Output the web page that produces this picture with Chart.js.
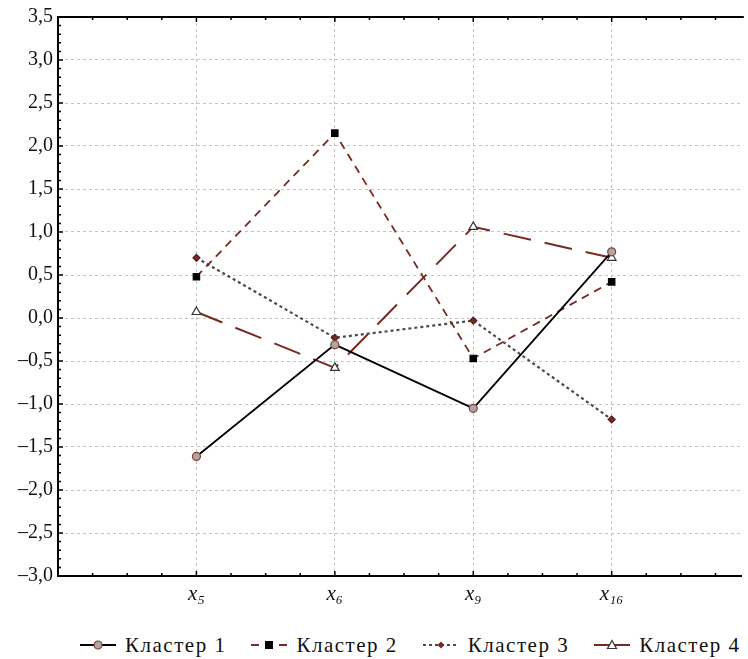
<!DOCTYPE html>
<html>
<head>
<meta charset="utf-8">
<script src="https://cdn.jsdelivr.net/npm/chart.js@4"></script>
<style>
  body { margin: 0; background: #fff; }
  #wrap { position: relative; width: 748px; height: 659px; }
  #box { position: absolute; left: 0; top: 0; width: 748px; height: 615px; }
  #legend {
    position: absolute; left: 0; top: 630px; width: 748px; height: 30px; padding-left: 79px;
    box-sizing: border-box;
    display: flex; justify-content: flex-start; align-items: center;
    font-family: 'Liberation Serif', 'Times New Roman', serif; font-size: 21px; letter-spacing: 1.5px; color: #111;
  }
  .item { display: flex; align-items: center; margin-right: 24px; }
  .item svg { margin-right: 8px; }
</style>
</head>
<body>
<div id="wrap">
  <div id="box"><canvas id="chart"></canvas></div>
  <div id="legend"></div>
</div>
<script>
// ---- data ----
const categories = ["x₅", "x₆", "x₉", "x₁₆"];
const catPos = [1, 2, 3, 4];
const seriesNames = ["Кластер 1", "Кластер 2", "Кластер 3", "Кластер 4"];
const cluster1 = [-1.61, -0.31, -1.05, 0.77];
const cluster2 = [0.48, 2.15, -0.47, 0.42];
const cluster3 = [0.70, -0.23, -0.03, -1.18];
const cluster4 = [0.07, -0.58, 1.06, 0.70];
const yTicks = [-3.0, -2.5, -2.0, -1.5, -1.0, -0.5, 0.0, 0.5, 1.0, 1.5, 2.0, 2.5, 3.0, 3.5];

const red = "#7a2a22";
const serif = "'Liberation Serif', 'Times New Roman', serif";
Chart.defaults.font.family = serif;

function pts(vals) {
    return vals.map((v, i) => ({ x: catPos[i], y: v }));
}

const styles = [
    { color: "#000", dash: [], width: 1.8, point: "circle", r: 4, fill: "#a8a8a8", border: "#8b3a2e" },
    { color: red, dash: [8, 6], width: 1.8, point: "rect", r: 4.5, fill: "#000", border: "#000" },
    { color: "#4a4a4a", dash: [3, 3], width: 2.2, point: "rectRot", r: 3.5, fill: red, border: "#5a1f18" },
    { color: red, dash: [28, 14], width: 2, point: "triangle", r: 5, fill: "#fff", border: "#333" }
];
const allData = [cluster1, cluster2, cluster3, cluster4];

const datasets = allData.map((d, i) => ({
    label: seriesNames[i],
    data: pts(d),
    borderColor: styles[i].color,
    borderDash: styles[i].dash,
    borderWidth: styles[i].width,
    pointStyle: styles[i].point,
    pointRadius: styles[i].r,
    pointBackgroundColor: styles[i].fill,
    pointBorderColor: styles[i].border,
    pointBorderWidth: 1.2,
    tension: 0
}));

// minor ticks + top frame
const frame = {
    id: "frame",
    afterDraw(chart) {
        const ctx = chart.ctx, a = chart.chartArea;
        const xs = chart.scales.x, ys = chart.scales.y;
        ctx.save();
        ctx.strokeStyle = "#000";
        ctx.lineWidth = 1.5;
        ctx.beginPath();
        for (let k = -30; k <= 35; k++) {
            const py = ys.getPixelForValue(k / 10);
            const len = (k % 5 === 0) ? 5 : 3;
            ctx.moveTo(a.left, py); ctx.lineTo(a.left + len, py);
        }
        for (let k = 1; k <= 19; k++) {
            const px = xs.getPixelForValue(k / 4);
            if (px > a.right) break;
            const len = (k % 4 === 0) ? 5 : 3;
            ctx.moveTo(px, a.bottom); ctx.lineTo(px, a.bottom - len);
            ctx.moveTo(px, a.top); ctx.lineTo(px, a.top + len);
        }
        ctx.stroke();
        ctx.lineWidth = 2;
        ctx.beginPath();
        ctx.moveTo(a.left, a.top); ctx.lineTo(a.right + 2, a.top);
        ctx.stroke();
        ctx.restore();
    }
};

new Chart(document.getElementById("chart"), {
    type: "line",
    data: { datasets },
    options: {
        responsive: true,
        maintainAspectRatio: false,
        animation: false,
        layout: { padding: { top: 15, right: 2, left: 0, bottom: 0 } },
        plugins: { legend: { display: false }, tooltip: { enabled: false } },
        scales: {
            x: {
                type: "linear", min: 0, max: 4.94,
                afterBuildTicks: s => { s.ticks = catPos.map(v => ({ value: v })); },
                afterFit: s => { s.height = 39; },
                grid: { color: "#c4c4c4", drawTicks: false },
                border: { color: "#000", width: 2, dash: [3, 3] },
                ticks: {
                    padding: 6,
                    color: "#111",
                    font: { family: serif, size: 21, style: "italic" },
                    callback: v => categories[catPos.indexOf(v)] || ""
                }
            },
            y: {
                min: -3, max: 3.5,
                afterBuildTicks: s => { s.ticks = yTicks.map(v => ({ value: v })); },
                afterFit: s => { s.width = 58; },
                grid: { color: "#c4c4c4", drawTicks: false },
                border: { color: "#000", width: 2, dash: [3, 3] },
                ticks: {
                    padding: 5,
                    color: "#111",
                    font: { family: serif, size: 20 },
                    callback: v => v.toFixed(1).replace(".", ",").replace("-", "–")
                }
            }
        }
    },
    plugins: [frame]
});

// ---- HTML legend ----
const legend = document.getElementById("legend");
const markerSvg = {
    circle: (s) => `<circle cx="19" cy="8" r="4" fill="${s.fill}" stroke="${s.border}" stroke-width="1.2"/>`,
    rect: (s) => `<rect x="15" y="4" width="8" height="8" fill="${s.fill}"/>`,
    rectRot: (s) => `<polygon points="19,4.5 22.5,8 19,11.5 15.5,8" fill="${s.fill}"/>`,
    triangle: (s) => `<polygon points="19,3.5 23.5,11.5 14.5,11.5" fill="#fff" stroke="${s.border}" stroke-width="1.2"/>`
};
styles.forEach((s, i) => {
    const item = document.createElement("div");
    item.className = "item";
    const dash = s.dash.length && i !== 3 ? `stroke-dasharray="${s.dash.join(' ')}"` : "";
    item.innerHTML = `<svg width="38" height="16"><line x1="1" y1="8" x2="37" y2="8" stroke="${s.color}" stroke-width="2" ${dash}/>${markerSvg[s.point](s)}</svg><span style="white-space:pre">${seriesNames[i]}</span>`;
    legend.appendChild(item);
});
</script>
</body>
</html>
